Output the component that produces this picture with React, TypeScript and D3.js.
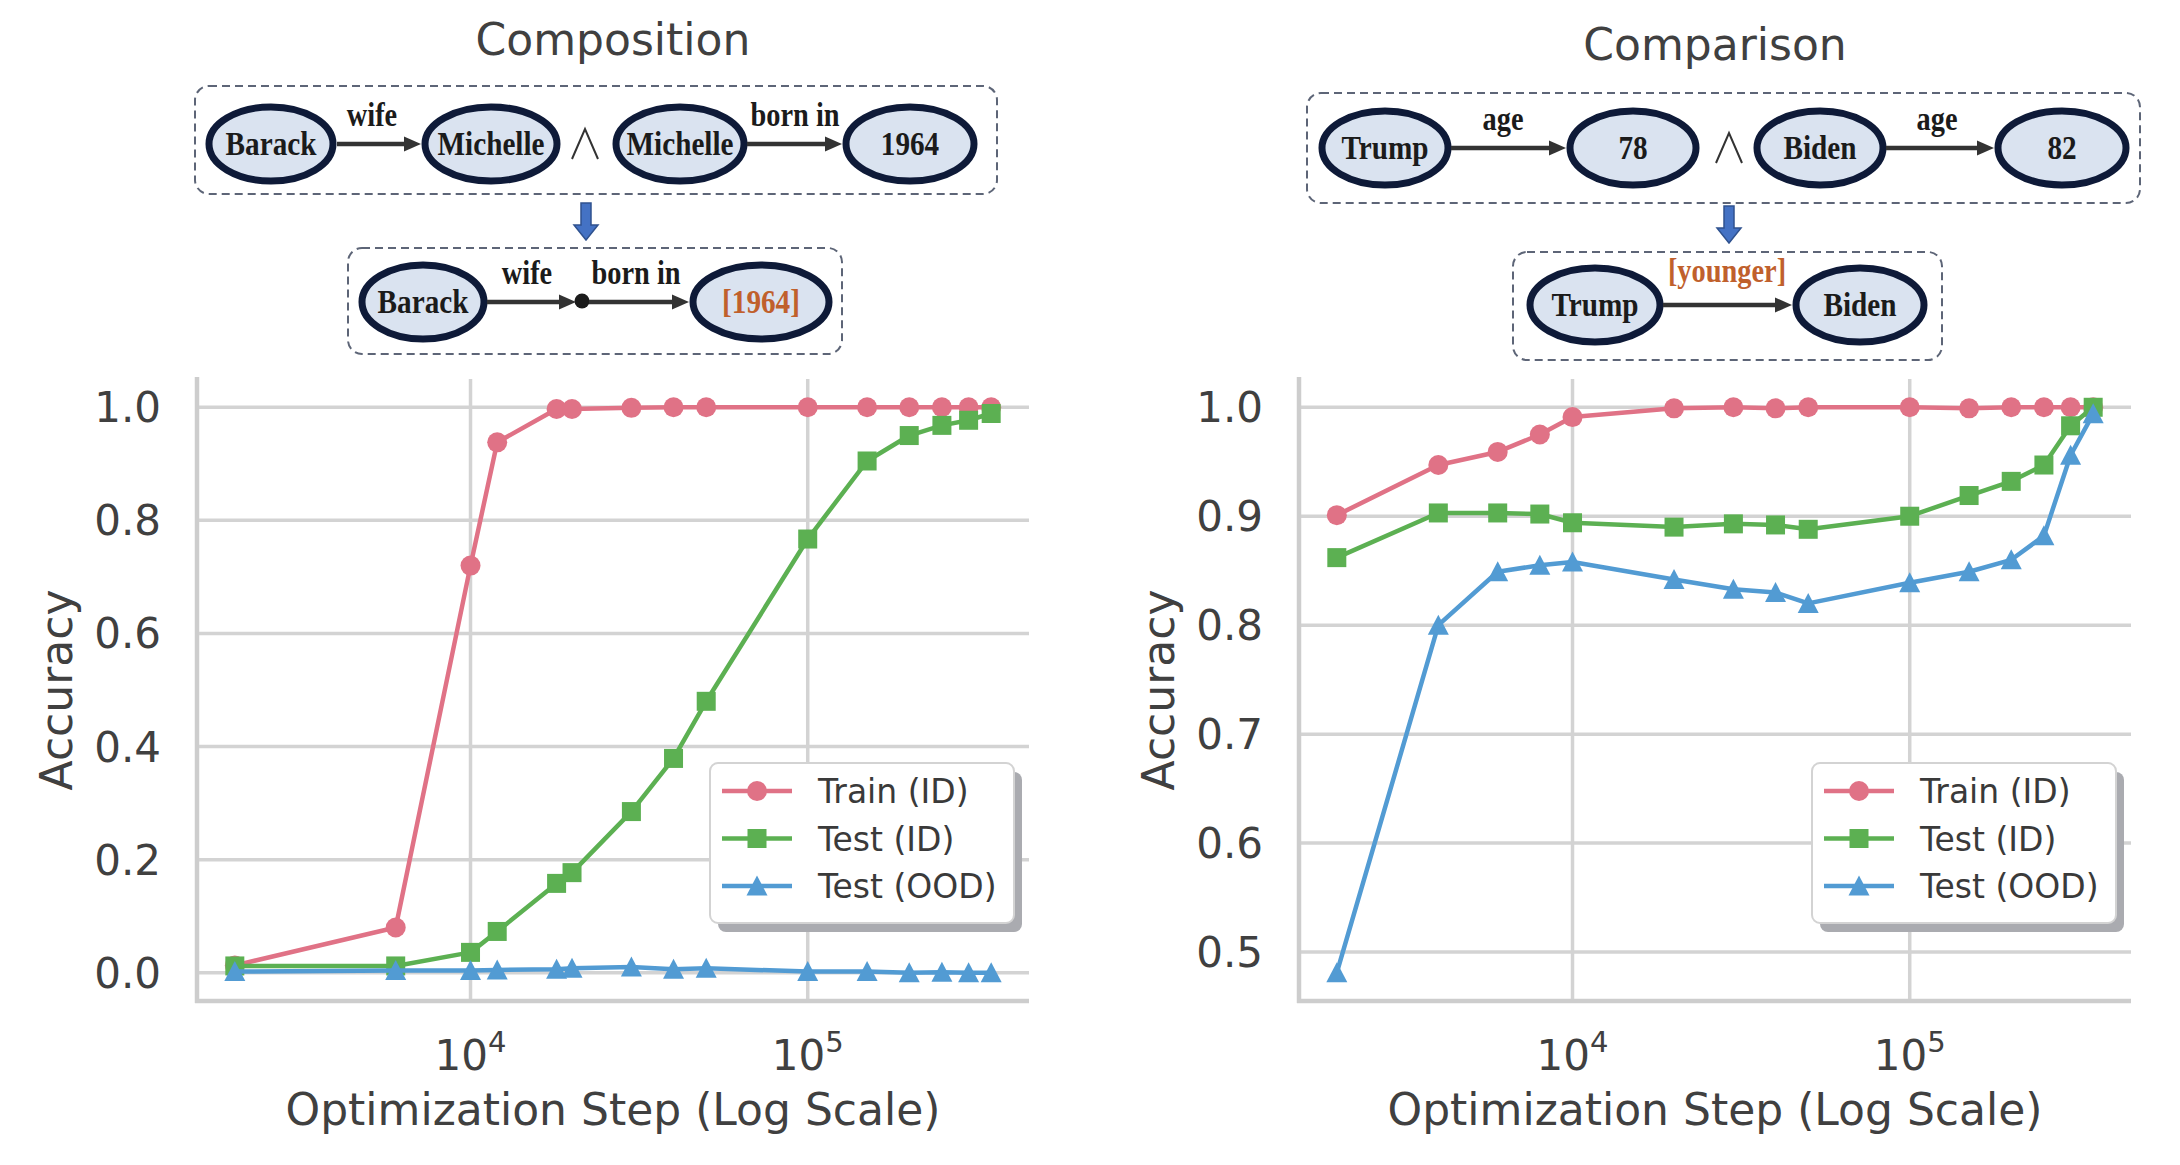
import React, { useEffect, useRef } from 'react';
import * as d3 from 'd3';

const width = 2180;
const height = 1165;

// Composition panel (left)
const compSteps = [2000, 6000, 10000, 12000, 18000, 20000, 30000, 40000, 50000, 100000, 150000, 200000, 250000, 300000, 350000];
const compTrain = [0.013, 0.08, 0.72, 0.938, 0.997, 0.997, 0.999, 1.0, 1.0, 1.0, 1.0, 1.0, 1.0, 1.0, 1.0];
const compTestId = [0.012, 0.012, 0.036, 0.073, 0.158, 0.177, 0.285, 0.379, 0.48, 0.767, 0.905, 0.95, 0.968, 0.977, 0.989];
const compTestOod = [0.002, 0.004, 0.004, 0.005, 0.006, 0.008, 0.01, 0.006, 0.008, 0.002, 0.002, 0.0, 0.001, 0.0, 0.0];
const compYTicks = [0, 0.2, 0.4, 0.6, 0.8, 1.0];

// Comparison panel (right)
const cmpSteps = [2000, 4000, 6000, 8000, 10000, 20000, 30000, 40000, 50000, 100000, 150000, 200000, 250000, 300000, 350000];
const cmpTrain = [0.901, 0.947, 0.959, 0.975, 0.991, 0.999, 1.0, 0.999, 1.0, 1.0, 0.999, 1.0, 1.0, 1.0, 1.0];
const cmpTestId = [0.862, 0.903, 0.903, 0.902, 0.894, 0.89, 0.893, 0.892, 0.888, 0.9, 0.919, 0.932, 0.947, 0.983, 1.0];
const cmpTestOod = [0.481, 0.8, 0.849, 0.855, 0.858, 0.842, 0.833, 0.83, 0.82, 0.839, 0.849, 0.86, 0.882, 0.956, 0.994];
const cmpYTicks = [0.5, 0.6, 0.7, 0.8, 0.9, 1.0];

const xTicks = [1e4, 1e5];
const seriesNames = ['Train (ID)', 'Test (ID)', 'Test (OOD)'];
const seriesColors = ['#e07286', '#5cb052', '#529bd3'];
const seriesMarkers = ['circle', 'square', 'triangle'];

// diagram labels
const compTopNodes = ['Barack', 'Michelle', 'Michelle', '1964'];
const compTopEdges = ['wife', 'born in'];
const compBottomNodes = ['Barack', '[1964]'];
const compBottomEdges = ['wife', 'born in'];
const cmpTopNodes = ['Trump', '78', 'Biden', '82'];
const cmpTopEdges = ['age', 'age'];
const cmpBottomNodes = ['Trump', 'Biden'];
const cmpBottomEdge = '[younger]';

const sans = 'DejaVu Sans, sans-serif';
const serif = 'Liberation Serif, Times New Roman, serif';
const textColor = '#404040';
const nodeStroke = '#0e1a38';
const nodeFill = '#dae3f0';
const edgeColor = '#333';
const accent = '#c0602c';

const drawMarker = (g, kind, cx, cy, color) => {
  if (kind === 'circle') {
    g.append('circle').attr('cx', cx).attr('cy', cy).attr('r', 10).attr('fill', color);
  } else if (kind === 'square') {
    g.append('rect').attr('x', cx - 9.5).attr('y', cy - 9.5).attr('width', 19).attr('height', 19).attr('fill', color);
  } else {
    g.append('path')
      .attr('d', `M${cx},${cy - 10.5}L${cx + 10.5},${cy + 9.5}L${cx - 10.5},${cy + 9.5}Z`)
      .attr('fill', color);
  }
};

const drawPanel = (svg, opts) => {
  const { left, right, top, bottom, steps, series, yTicks, title, titleY } = opts;
  const g = svg.append('g');

  // matplotlib-like 5% margins (log space for x)
  const [lx0, lx1] = d3.extent(steps).map(Math.log10);
  const px = (lx1 - lx0) * 0.05;
  const x = d3.scaleLog().domain([10 ** (lx0 - px), 10 ** (lx1 + px)]).range([left, right]);
  const [ylo, yhi] = d3.extent(series.flat());
  const py = (yhi - ylo) * 0.05;
  const y = d3.scaleLinear().domain([ylo - py, yhi + py]).range([bottom, top]);

  // grid
  g.selectAll('.hgrid').data(yTicks).enter().append('line')
    .attr('x1', left).attr('x2', right)
    .attr('y1', d => y(d)).attr('y2', d => y(d))
    .attr('stroke', '#d3d3d3').attr('stroke-width', 3.5);
  g.selectAll('.vgrid').data(xTicks).enter().append('line')
    .attr('x1', d => x(d)).attr('x2', d => x(d))
    .attr('y1', top).attr('y2', bottom)
    .attr('stroke', '#d3d3d3').attr('stroke-width', 3.5);

  // spines (left + bottom)
  g.append('line').attr('x1', left).attr('x2', left).attr('y1', top - 2).attr('y2', bottom + 2)
    .attr('stroke', '#cdcdcd').attr('stroke-width', 4.5);
  g.append('line').attr('x1', left - 2).attr('x2', right).attr('y1', bottom).attr('y2', bottom)
    .attr('stroke', '#cdcdcd').attr('stroke-width', 4.5);

  // y tick labels
  g.selectAll('.ytick').data(yTicks).enter().append('text')
    .attr('x', left - 36).attr('y', d => y(d) + 15)
    .attr('text-anchor', 'end')
    .attr('font-family', sans).attr('font-size', 42).attr('fill', textColor)
    .text(d => d3.format('.1f')(d));

  // x tick labels 10^n
  xTicks.forEach(t => {
    const txt = g.append('text')
      .attr('x', x(t)).attr('y', 1070)
      .attr('text-anchor', 'middle')
      .attr('font-family', sans).attr('font-size', 42).attr('fill', textColor);
    txt.append('tspan').text('10');
    txt.append('tspan').attr('font-size', 29).attr('dy', -18).text(String(Math.round(Math.log10(t))));
  });

  // axis labels
  g.append('text')
    .attr('x', (left + right) / 2).attr('y', 1125)
    .attr('text-anchor', 'middle')
    .attr('font-family', sans).attr('font-size', 44).attr('fill', textColor)
    .text('Optimization Step (Log Scale)');
  g.append('text')
    .attr('transform', `translate(${left - 125},${(top + bottom) / 2}) rotate(-90)`)
    .attr('text-anchor', 'middle')
    .attr('font-family', sans).attr('font-size', 44).attr('fill', textColor)
    .text('Accuracy');

  // title
  g.append('text')
    .attr('x', (left + right) / 2).attr('y', titleY)
    .attr('text-anchor', 'middle')
    .attr('font-family', sans).attr('font-size', 44).attr('fill', textColor)
    .text(title);

  // series
  const line = d3.line().x((d, i) => x(steps[i])).y(d => y(d));
  series.forEach((vals, si) => {
    g.append('path')
      .attr('d', line(vals))
      .attr('fill', 'none')
      .attr('stroke', seriesColors[si])
      .attr('stroke-width', 4.5)
      .attr('stroke-linejoin', 'round');
    vals.forEach((v, i) => drawMarker(g, seriesMarkers[si], x(steps[i]), y(v), seriesColors[si]));
  });

  // legend
  const lw = 304;
  const lh = 160;
  const lg = g.append('g').attr('transform', `translate(${right - 15 - lw},763)`);
  lg.append('rect').attr('x', 8).attr('y', 9).attr('width', lw).attr('height', lh).attr('rx', 8)
    .attr('fill', '#aaabb0');
  lg.append('rect').attr('width', lw).attr('height', lh).attr('rx', 8)
    .attr('fill', '#fff').attr('stroke', '#d3d3d3').attr('stroke-width', 2);
  seriesNames.forEach((name, si) => {
    const by = 40 + si * 47.5;
    lg.append('line').attr('x1', 12).attr('x2', 82).attr('y1', by - 12).attr('y2', by - 12)
      .attr('stroke', seriesColors[si]).attr('stroke-width', 4.5);
    drawMarker(lg, seriesMarkers[si], 47, by - 12, seriesColors[si]);
    lg.append('text').attr('x', 108).attr('y', by)
      .attr('font-family', sans).attr('font-size', 33).attr('fill', '#3a3a3a')
      .text(name);
  });
};

const drawBox = (g, x0, y0, x1, y1) => {
  g.append('rect')
    .attr('x', x0).attr('y', y0).attr('width', x1 - x0).attr('height', y1 - y0)
    .attr('rx', 14)
    .attr('fill', 'none').attr('stroke', '#5d6577').attr('stroke-width', 2)
    .attr('stroke-dasharray', '8 5');
};

// serif label, slightly condensed like the original figure font
const serifText = (g, cx, by, label, size, color) => {
  g.append('text')
    .attr('transform', `translate(${cx},${by}) scale(0.86,1)`)
    .attr('text-anchor', 'middle')
    .attr('font-family', serif).attr('font-weight', 'bold').attr('font-size', size)
    .attr('fill', color)
    .text(label);
};

const drawNode = (g, cx, cy, rx, label, color = '#1b1b1b') => {
  g.append('ellipse').attr('cx', cx).attr('cy', cy).attr('rx', rx).attr('ry', 37)
    .attr('fill', nodeFill).attr('stroke', nodeStroke).attr('stroke-width', 7);
  serifText(g, cx, cy + 11, label, 34, color);
};

const drawEdge = (g, x0, x1, y) => {
  g.append('line').attr('x1', x0).attr('x2', x1 - 14).attr('y1', y).attr('y2', y)
    .attr('stroke', edgeColor).attr('stroke-width', 4.5);
  g.append('path').attr('d', `M${x1},${y}L${x1 - 17},${y - 7.5}L${x1 - 17},${y + 7.5}Z`)
    .attr('fill', edgeColor);
};

const drawEdgeLabel = (g, cx, by, label, color = '#1b1b1b') => {
  serifText(g, cx, by, label, 33, color);
};

const drawAnd = (g, cx, cy) => {
  g.append('path').attr('d', `M${cx - 13},${cy + 15}L${cx},${cy - 15}L${cx + 13},${cy + 15}`)
    .attr('fill', 'none').attr('stroke', '#333').attr('stroke-width', 2);
};

const drawDownArrow = (g, cx, y0, y1) => {
  const hy = y1 - 15;
  g.append('path')
    .attr('d', `M${cx - 5},${y0}L${cx + 5},${y0}L${cx + 5},${hy}L${cx + 12},${hy}L${cx},${y1}L${cx - 12},${hy}L${cx - 5},${hy}Z`)
    .attr('fill', '#4472c4').attr('stroke', '#2f528f').attr('stroke-width', 1.5);
};

const drawComposition = svg => {
  const g = svg.append('g');
  drawBox(g, 195, 86, 997, 194);
  const topX = [271, 491, 680, 910];
  const topRx = [62, 66, 64, 64];
  compTopNodes.forEach((n, i) => drawNode(g, topX[i], 144, topRx[i], n));
  drawEdge(g, 337, 421, 144);
  drawEdgeLabel(g, 372, 126, compTopEdges[0]);
  drawAnd(g, 585, 144);
  drawEdge(g, 747, 842, 144);
  drawEdgeLabel(g, 795, 126, compTopEdges[1]);

  drawDownArrow(g, 586, 203, 240);

  drawBox(g, 348, 248, 842, 354);
  drawNode(g, 423, 302, 61, compBottomNodes[0]);
  drawNode(g, 761, 302, 68, compBottomNodes[1], accent);
  drawEdge(g, 487, 576, 302);
  g.append('circle').attr('cx', 582).attr('cy', 301).attr('r', 7.5).attr('fill', '#1b1b1b');
  drawEdge(g, 589, 689, 302);
  drawEdgeLabel(g, 527, 284, compBottomEdges[0]);
  drawEdgeLabel(g, 636, 284, compBottomEdges[1]);
};

const drawComparison = svg => {
  const g = svg.append('g');
  drawBox(g, 1307, 93, 2140, 203);
  const topX = [1385, 1633, 1820, 2062];
  const topRx = [63, 63, 63, 64];
  cmpTopNodes.forEach((n, i) => drawNode(g, topX[i], 148, topRx[i], n));
  drawEdge(g, 1451, 1566, 148);
  drawEdgeLabel(g, 1503, 130, cmpTopEdges[0]);
  drawAnd(g, 1729, 148);
  drawEdge(g, 1886, 1994, 148);
  drawEdgeLabel(g, 1937, 130, cmpTopEdges[1]);

  drawDownArrow(g, 1729, 206, 243);

  drawBox(g, 1513, 252, 1942, 360);
  drawNode(g, 1595, 305, 65, cmpBottomNodes[0]);
  drawNode(g, 1860, 305, 64, cmpBottomNodes[1]);
  drawEdge(g, 1663, 1792, 305);
  drawEdgeLabel(g, 1727, 282, cmpBottomEdge, accent);
};

const App = () => {
  const svgRef = useRef(null);

  useEffect(() => {
    if (!svgRef.current) return;
    const svg = d3.select(svgRef.current);
    svg.selectAll('*').remove();
    svg.append('rect').attr('width', width).attr('height', height).attr('fill', '#fff');

    drawPanel(svg, {
      left: 197, right: 1029, top: 379, bottom: 1001,
      steps: compSteps,
      series: [compTrain, compTestId, compTestOod],
      yTicks: compYTicks,
      title: 'Composition', titleY: 55,
    });
    drawPanel(svg, {
      left: 1299, right: 2131, top: 379, bottom: 1001,
      steps: cmpSteps,
      series: [cmpTrain, cmpTestId, cmpTestOod],
      yTicks: cmpYTicks,
      title: 'Comparison', titleY: 60,
    });
    drawComposition(svg);
    drawComparison(svg);
  }, []);

  return (
    <svg
      ref={svgRef}
      width={width}
      height={height}
      style={{ position: 'absolute', left: 0, top: 0, display: 'block' }}
    />
  );
};

export default App;
